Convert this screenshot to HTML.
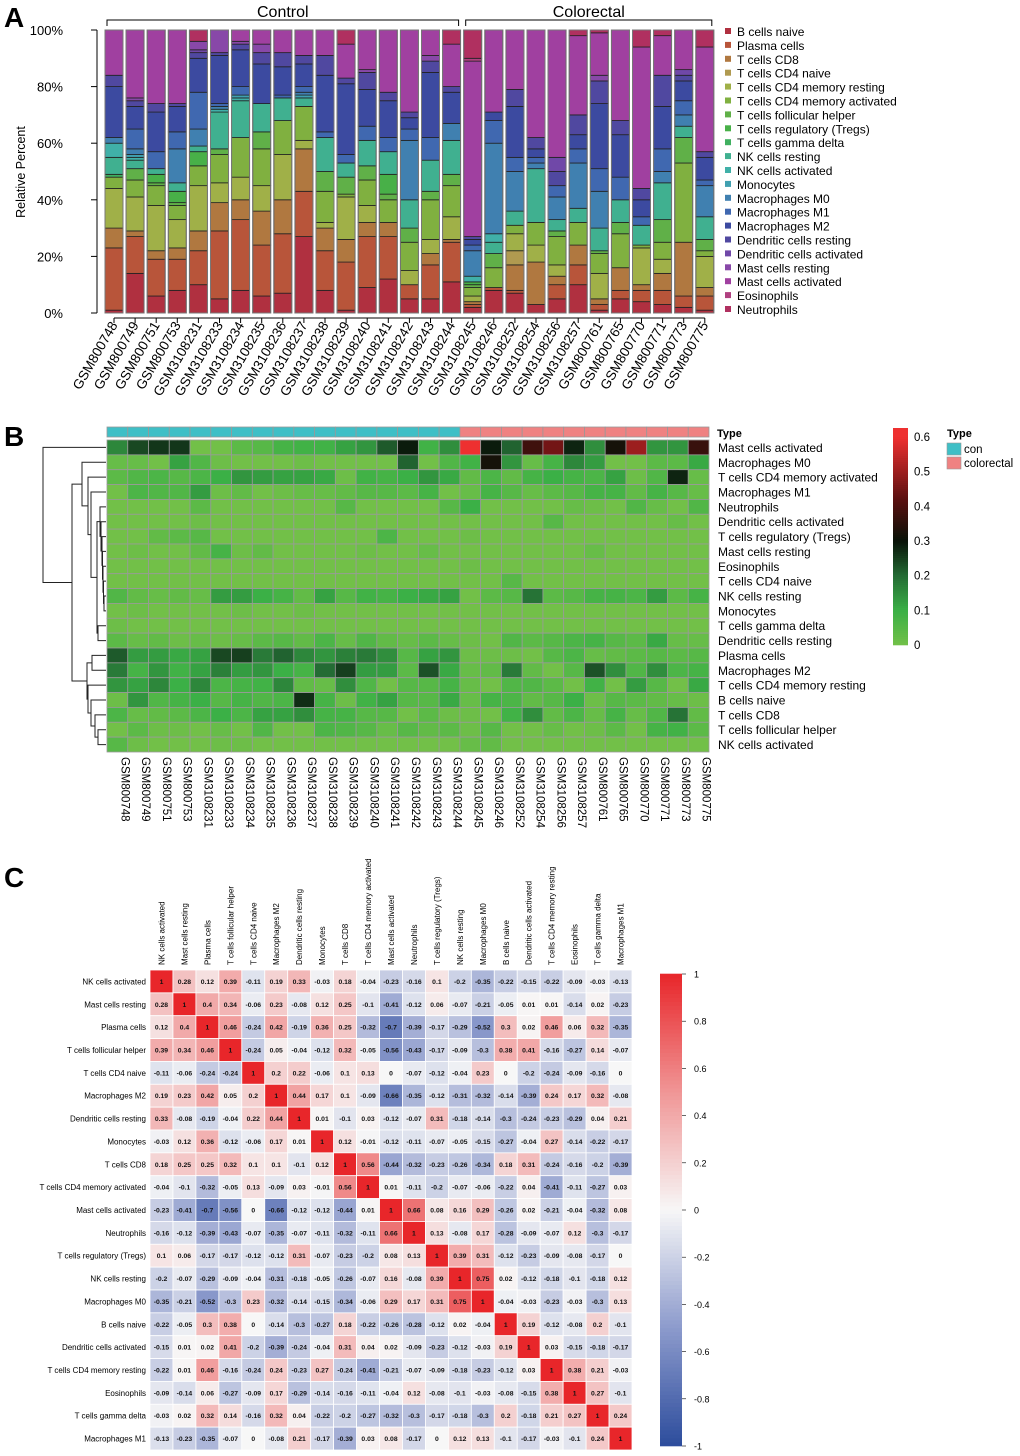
<!DOCTYPE html>
<html><head><meta charset="utf-8"><style>
body{margin:0;background:#fff;}
svg{display:block;font-family:"Liberation Sans",Arial,sans-serif;}
</style></head><body>
<svg id="fig" width="1020" height="1456" viewBox="0 0 1020 1456" xmlns="http://www.w3.org/2000/svg">
<g id="pA"></g>
<g id="pB"></g>
<g id="pC"></g>
</svg>
<script>
const cellTypes=["B cells naive","Plasma cells","T cells CD8","T cells CD4 naive","T cells CD4 memory resting","T cells CD4 memory activated","T cells follicular helper","T cells regulatory (Tregs)","T cells gamma delta","NK cells resting","NK cells activated","Monocytes","Macrophages M0","Macrophages M1","Macrophages M2","Dendritic cells resting","Dendritic cells activated","Mast cells resting","Mast cells activated","Eosinophils","Neutrophils"];
const typeColors=["#b03040","#b8553a","#b07840","#b09a50","#a0b048","#80b040","#60b048","#48b048","#40b060","#40b090","#40b0a8","#40a0b0","#4080b0","#4068b0","#3c4aa0","#5048a0","#7048a8","#8848a8","#a040a0","#b04080","#b03060"];
const samples=["GSM800748","GSM800749","GSM800751","GSM800753","GSM3108231","GSM3108233","GSM3108234","GSM3108235","GSM3108236","GSM3108237","GSM3108238","GSM3108239","GSM3108240","GSM3108241","GSM3108242","GSM3108243","GSM3108244","GSM3108245","GSM3108246","GSM3108252","GSM3108254","GSM3108256","GSM3108257","GSM800761","GSM800765","GSM800770","GSM800771","GSM800773","GSM800775"];
const groups=["con","con","con","con","con","con","con","con","con","con","con","con","con","con","con","con","con","colorectal","colorectal","colorectal","colorectal","colorectal","colorectal","colorectal","colorectal","colorectal","colorectal","colorectal","colorectal"];
// percent of each cell type per sample (order = cellTypes)
const fractions=[
[1,22,7,0,14,4,0,0,1,6,5,0,2,0,18,4,0,0,16,0,0],
[14,13,2,0,12,6,4,0,0,3,1,1,2,7,8,2,0,1,24,0,0],
[6,13,3,0,16,7,1,3,0,2,0,0,0,6,14,3,0,0,26,0,0],
[8,11,4,0,10,5,1,4,0,3,0,0,12,6,9,1,0,0,26,0,0],
[10,12,7,0,16,7,0,5,0,2,0,0,6,13,12,2,1,3,0,0,4],
[5,24,10,0,7,10,2,0,0,13,1,0,1,1,17,1,0,8,0,0,0],
[8,25,7,0,8,14,0,0,0,13,1,1,0,3,13,2,0,1,4,0,0],
[6,18,12,0,9,13,6,0,0,10,0,0,0,0,14,4,0,3,5,0,0],
[7,21,12,0,16,12,0,0,0,8,0,0,0,1,10,5,0,0,8,0,0],
[27,16,15,0,3,12,0,0,0,3,0,1,1,2,8,3,0,0,9,0,0],
[8,14,8,0,2,11,7,0,0,12,0,0,0,2,20,7,0,0,9,0,0],
[1,17,8,0,15,1,6,0,0,5,0,0,0,3,25,2,0,0,12,0,5],
[9,18,5,0,6,9,5,0,0,9,0,0,0,5,13,6,0,1,14,0,0],
[12,15,5,0,0,8,2,7,0,8,0,0,0,5,13,3,0,0,22,0,0],
[5,5,0,0,5,10,5,0,0,10,0,0,21,4,4,2,0,0,29,0,0],
[5,12,4,0,5,14,3,0,0,11,0,0,0,8,23,4,0,2,9,0,0],
[11,14,1,0,8,11,4,0,0,12,0,0,6,0,11,2,0,0,15,0,5],
[2,1,1,0,2,3,1,1,0,0,2,0,9,2,2,1,0,0,62,1,10],
[8,1,0,0,0,7,5,0,0,4,3,0,32,8,3,0,0,0,29,0,0],
[7,1,9,5,6,3,0,0,0,5,0,0,14,5,18,6,0,0,21,0,0],
[3,0,15,0,6,8,0,0,0,19,0,0,2,2,3,4,0,0,38,0,0],
[5,5,3,0,4,10,2,0,0,4,0,0,8,4,0,5,5,0,45,0,0],
[10,7,7,0,0,8,0,0,0,5,0,0,16,5,5,7,0,0,28,0,2],
[1,2,2,0,9,7,1,0,0,8,0,0,13,8,23,8,0,2,15,0,1],
[5,3,8,0,0,12,4,0,0,8,0,0,0,8,15,5,0,0,32,0,0],
[4,4,2,0,13,1,0,0,0,7,0,0,0,3,6,4,0,0,50,0,6],
[3,5,6,0,5,6,8,0,0,13,0,0,4,8,15,11,0,0,14,0,2],
[2,4,19,0,0,28,9,0,0,4,0,0,4,5,7,2,2,0,14,0,0],
[1,5,3,0,11,2,4,0,0,8,0,0,11,2,8,2,0,0,37,0,6]];
const yTicks=[0,20,40,60,80,100];
const heatRows=[18,12,5,13,20,16,7,17,19,3,9,11,8,15,1,14,4,0,2,6,10];
const heatTicks=[0,0.1,0.2,0.3,0.4,0.5,0.6];
const corrLabels=["NK cells activated","Mast cells resting","Plasma cells","T cells follicular helper","T cells CD4 naive","Macrophages M2","Dendritic cells resting","Monocytes","T cells CD8","T cells CD4 memory activated","Mast cells activated","Neutrophils","T cells regulatory (Tregs)","NK cells resting","Macrophages M0","B cells naive","Dendritic cells activated","T cells CD4 memory resting","Eosinophils","T cells gamma delta","Macrophages M1"];
const corr=[
[1,0.28,0.12,0.39,-0.11,0.19,0.33,-0.03,0.18,-0.04,-0.23,-0.16,0.1,-0.2,-0.35,-0.22,-0.15,-0.22,-0.09,-0.03,-0.13],
[0.28,1,0.4,0.34,-0.06,0.23,-0.08,0.12,0.25,-0.1,-0.41,-0.12,0.06,-0.07,-0.21,-0.05,0.01,0.01,-0.14,0.02,-0.23],
[0.12,0.4,1,0.46,-0.24,0.42,-0.19,0.36,0.25,-0.32,-0.7,-0.39,-0.17,-0.29,-0.52,0.3,0.02,0.46,0.06,0.32,-0.35],
[0.39,0.34,0.46,1,-0.24,0.05,-0.04,-0.12,0.32,-0.05,-0.56,-0.43,-0.17,-0.09,-0.3,0.38,0.41,-0.16,-0.27,0.14,-0.07],
[-0.11,-0.06,-0.24,-0.24,1,0.2,0.22,-0.06,0.1,0.13,0,-0.07,-0.12,-0.04,0.23,0,-0.2,-0.24,-0.09,-0.16,0],
[0.19,0.23,0.42,0.05,0.2,1,0.44,0.17,0.1,-0.09,-0.66,-0.35,-0.12,-0.31,-0.32,-0.14,-0.39,0.24,0.17,0.32,-0.08],
[0.33,-0.08,-0.19,-0.04,0.22,0.44,1,0.01,-0.1,0.03,-0.12,-0.07,0.31,-0.18,-0.14,-0.3,-0.24,-0.23,-0.29,0.04,0.21],
[-0.03,0.12,0.36,-0.12,-0.06,0.17,0.01,1,0.12,-0.01,-0.12,-0.11,-0.07,-0.05,-0.15,-0.27,-0.04,0.27,-0.14,-0.22,-0.17],
[0.18,0.25,0.25,0.32,0.1,0.1,-0.1,0.12,1,0.56,-0.44,-0.32,-0.23,-0.26,-0.34,0.18,0.31,-0.24,-0.16,-0.2,-0.39],
[-0.04,-0.1,-0.32,-0.05,0.13,-0.09,0.03,-0.01,0.56,1,0.01,-0.11,-0.2,-0.07,-0.06,-0.22,0.04,-0.41,-0.11,-0.27,0.03],
[-0.23,-0.41,-0.7,-0.56,0,-0.66,-0.12,-0.12,-0.44,0.01,1,0.66,0.08,0.16,0.29,-0.26,0.02,-0.21,-0.04,-0.32,0.08],
[-0.16,-0.12,-0.39,-0.43,-0.07,-0.35,-0.07,-0.11,-0.32,-0.11,0.66,1,0.13,-0.08,0.17,-0.28,-0.09,-0.07,0.12,-0.3,-0.17],
[0.1,0.06,-0.17,-0.17,-0.12,-0.12,0.31,-0.07,-0.23,-0.2,0.08,0.13,1,0.39,0.31,-0.12,-0.23,-0.09,-0.08,-0.17,0],
[-0.2,-0.07,-0.29,-0.09,-0.04,-0.31,-0.18,-0.05,-0.26,-0.07,0.16,-0.08,0.39,1,0.75,0.02,-0.12,-0.18,-0.1,-0.18,0.12],
[-0.35,-0.21,-0.52,-0.3,0.23,-0.32,-0.14,-0.15,-0.34,-0.06,0.29,0.17,0.31,0.75,1,-0.04,-0.03,-0.23,-0.03,-0.3,0.13],
[-0.22,-0.05,0.3,0.38,0,-0.14,-0.3,-0.27,0.18,-0.22,-0.26,-0.28,-0.12,0.02,-0.04,1,0.19,-0.12,-0.08,0.2,-0.1],
[-0.15,0.01,0.02,0.41,-0.2,-0.39,-0.24,-0.04,0.31,0.04,0.02,-0.09,-0.23,-0.12,-0.03,0.19,1,0.03,-0.15,-0.18,-0.17],
[-0.22,0.01,0.46,-0.16,-0.24,0.24,-0.23,0.27,-0.24,-0.41,-0.21,-0.07,-0.09,-0.18,-0.23,-0.12,0.03,1,0.38,0.21,-0.03],
[-0.09,-0.14,0.06,-0.27,-0.09,0.17,-0.29,-0.14,-0.16,-0.11,-0.04,0.12,-0.08,-0.1,-0.03,-0.08,-0.15,0.38,1,0.27,-0.1],
[-0.03,0.02,0.32,0.14,-0.16,0.32,0.04,-0.22,-0.2,-0.27,-0.32,-0.3,-0.17,-0.18,-0.3,0.2,-0.18,0.21,0.27,1,0.24],
[-0.13,-0.23,-0.35,-0.07,0,-0.08,0.21,-0.17,-0.39,0.03,0.08,-0.17,0,0.12,0.13,-0.1,-0.17,-0.03,-0.1,0.24,1]];
const corrTicks=[1,0.8,0.6,0.4,0.2,0,-0.2,-0.4,-0.6,-0.8,-1];

const NS="http://www.w3.org/2000/svg";
function mk(parent,tag,attrs,text){const e=document.createElementNS(NS,tag);for(const k in attrs)e.setAttribute(k,attrs[k]);if(text!==undefined)e.textContent=text;parent.appendChild(e);return e;}
function hex2rgb(h){return [parseInt(h.substr(1,2),16),parseInt(h.substr(3,2),16),parseInt(h.substr(5,2),16)];}
function interp(stops,v){if(v<=stops[0][0])return stops[0][1];for(let i=1;i<stops.length;i++){if(v<=stops[i][0]){const t=(v-stops[i-1][0])/(stops[i][0]-stops[i-1][0]);const a=hex2rgb(stops[i-1][1]),b=hex2rgb(stops[i][1]);return "rgb("+a.map((x,j)=>Math.round(x+(b[j]-x)*t)).join(",")+")";}}return stops[stops.length-1][1];}

/* ---------- Panel A ---------- */
const A=document.getElementById('pA');
let t=mk(A,'text',{x:4,y:27,'font-size':28,'font-weight':'bold'},'A');


const aTop=30,aBot=313,aLeft=105,pitch=21.1,bw=18;
const yA=v=>aBot-(v/100)*(aBot-aTop);
const xA=i=>aLeft+i*pitch;
mk(A,'line',{x1:97,y1:yA(0),x2:97,y2:yA(100),stroke:'#000'});
yTicks.forEach(v=>{mk(A,'line',{x1:91,y1:yA(v),x2:97,y2:yA(v),stroke:'#000'});
 const l=mk(A,'text',{x:63,y:yA(v)+5,'font-size':13,'text-anchor':'end'},v+'%');
 
 });
t=mk(A,'text',{x:25,y:172,'font-size':12.5,'text-anchor':'middle',transform:'rotate(-90 25 172)'},'Relative Percent');


// group brackets
const nCon=groups.filter(g=>g==='con').length;
[[0,nCon-1,'Control'],[nCon,samples.length-1,'Colorectal']].forEach(([a,b,lab])=>{
 const x1=xA(a)+2,x2=xA(b)+bw-2;
 mk(A,'path',{d:`M${x1},26 V20 H${x2} V26`,fill:'none',stroke:'#000','stroke-width':1});
 const g=mk(A,'text',{x:(x1+x2)/2,y:17,'font-size':16,'text-anchor':'middle'},lab);
 
 });
fractions.forEach((fr,i)=>{
 const g=mk(A,'g',{});
 
 
 const tot=fr.reduce((s,v)=>s+v,0);let acc=0;
 fr.forEach((v,k)=>{if(v<=0)return;const y0=yA(acc/tot*100),y1=yA((acc+v)/tot*100);acc+=v;
  const r=mk(g,'rect',{x:xA(i),y:y1,width:bw,height:y0-y1,fill:typeColors[k],stroke:'#222','stroke-width':0.8});
  
  });
 mk(g,'rect',{x:xA(i),y:aTop,width:bw,height:aBot-aTop,fill:'none',stroke:'#777','stroke-width':1});
 const cx=xA(i)+bw/2;
 mk(A,'line',{x1:cx,y1:318,x2:cx,y2:323,stroke:'#000'});
 const l=mk(A,'text',{x:cx+4,y:325,'font-size':13.5,'text-anchor':'end',transform:`rotate(-60 ${cx+4} 325)`},samples[i]);
 
 });
mk(A,'line',{x1:xA(0)+bw/2,y1:318,x2:xA(samples.length-1)+bw/2,y2:318,stroke:'#000'});
cellTypes.forEach((c,k)=>{const y=32+k*13.9;
 const g=mk(A,'g',{});
 
 
 mk(g,'rect',{x:725,y:y-4,width:6,height:6,fill:typeColors[k]});
 mk(g,'text',{x:737,y:y+4,'font-size':12},c);});

/* ---------- Panel B ---------- */
const B=document.getElementById('pB');
t=mk(B,'text',{x:4,y:446,'font-size':28,'font-weight':'bold'},'B');


const hx0=107,hx1=709,hy0=440,hy1=752;
const cw=(hx1-hx0)/samples.length,rh=(hy1-hy0)/heatRows.length;
const heatStops=[[0,'#72c048'],[0.1,'#3bb046'],[0.2,'#246c34'],[0.3,'#081208'],[0.42,'#5a1010'],[0.6,'#ee3030']];
samples.forEach((s,j)=>{
 const a=mk(B,'rect',{x:hx0+j*cw,y:427,width:cw,height:10,fill:groups[j]==='con'?'#3fbfc6':'#ef8282',stroke:'#999','stroke-width':0.8});
 
 
 const x=hx0+j*cw+cw/2+4;
 const l=mk(B,'text',{x:x,y:757,'font-size':11.5,transform:`rotate(90 ${x} 757)`},s);
 
 });
heatRows.forEach((k,r)=>{
 samples.forEach((s,j)=>{const fr=fractions[j];const tot=fr.reduce((a,b)=>a+b,0);const v=fr[k]/tot;
  const c=mk(B,'rect',{x:hx0+j*cw,y:hy0+r*rh,width:cw,height:rh,fill:interp(heatStops,v),stroke:'#9a9a9a','stroke-width':0.8});
  
  });
 const l=mk(B,'text',{x:718,y:hy0+r*rh+rh/2+4.5,'font-size':12},cellTypes[k]);
 
 });
t=mk(B,'text',{x:717,y:437,'font-size':11,'font-weight':'bold'},'Type');


// dendrogram
const yRow=r=>hy0+r*rh+rh/2;
function N(x,a,b){return {x:x,a:a,b:b};}
const tree=N(43,0,N(72,N(82,1,N(88,2,N(91,3,N(97,N(100,4,N(101,5,N(102,6,N(102.5,7,N(103,8,N(103.5,9,N(104,10,11))))))),N(98,12,13))))),N(87,N(92,14,15),N(88,16,N(91,17,N(95,18,N(98,19,20)))))));
const dend=mk(B,'g',{fill:'none',stroke:'#222','stroke-width':1});


function draw(n){if(typeof n==='number')return {x:hx0-1,y:yRow(n)};const a=draw(n.a),b=draw(n.b);
 mk(dend,'path',{d:`M${a.x},${a.y} H${n.x} V${b.y} H${b.x}`});return {x:n.x,y:(a.y+b.y)/2};}
draw(tree);
// colorbar
const cb=mk(B,'g',{});


const cbY=v=>645-v*(645-437)/0.6;
for(let i=0;i<100;i++){const v0=i/100*0.6,v1=(i+1)/100*0.6;mk(cb,'rect',{x:893,y:cbY(v1)-0.3,width:15,height:cbY(v0)-cbY(v1)+0.6,fill:interp(heatStops,(v0+v1)/2)});}
mk(cb,'rect',{x:893,y:428,width:15,height:cbY(0.6)-428,fill:'#ee3030'});
heatTicks.forEach(v=>{const l=mk(B,'text',{x:914,y:cbY(v)+4,'font-size':11.5},String(v));
 
 });
t=mk(B,'text',{x:947,y:437,'font-size':11,'font-weight':'bold'},'Type');


[['con','#3fbfc6',443],['colorectal','#ef8282',457]].forEach(([lab,col,y])=>{
 const g=mk(B,'g',{});
 
 
 mk(g,'rect',{x:947,y:y,width:14,height:12,fill:col,stroke:'#999','stroke-width':0.6});
 mk(g,'text',{x:964,y:y+10,'font-size':11.5},lab);});

/* ---------- Panel C ---------- */
const C=document.getElementById('pC');
t=mk(C,'text',{x:4,y:887,'font-size':28,'font-weight':'bold'},'C');


const cx0=150,cy0=970,cs=(632-150)/corrLabels.length,csy=(1450-970)/corrLabels.length;
const corrStops=[[-1,'#2c4c9c'],[-0.5,'#8c9acc'],[0,'#f7f7f7'],[0.5,'#f09696'],[1,'#e8262a']];
corrLabels.forEach((lab,i)=>{
 const x=cx0+i*cs+cs/2+3;
 const l=mk(C,'text',{x:x,y:965,'font-size':8,transform:`rotate(-90 ${x} 965)`},lab);
 
 
 const r=mk(C,'text',{x:146,y:cy0+i*csy+csy/2+3,'font-size':8,'text-anchor':'end'},lab);
 
 });
corr.forEach((row,i)=>row.forEach((v,j)=>{
 const c=mk(C,'rect',{x:cx0+j*cs,y:cy0+i*csy,width:cs,height:csy,fill:interp(corrStops,v),stroke:'#fff','stroke-width':0.8});
 
 
 const l=mk(C,'text',{x:cx0+j*cs+cs/2,y:cy0+i*csy+csy/2+2.5,'font-size':6.8,'font-weight':'bold','text-anchor':'middle',fill:'#111'},String(v));
 
 }));
const cbc=mk(C,'g',{});


const ccY=v=>974+(1-v)/2*(1446-974);
for(let i=0;i<120;i++){const v0=-1+i/60,v1=-1+(i+1)/60;mk(cbc,'rect',{x:660,y:ccY(v1)-0.3,width:22,height:ccY(v0)-ccY(v1)+0.6,fill:interp(corrStops,(v0+v1)/2)});}
corrTicks.forEach(v=>{mk(C,'line',{x1:682,y1:ccY(v),x2:686,y2:ccY(v),stroke:'#000','stroke-width':0.6});
 const l=mk(C,'text',{x:694,y:ccY(v)+3.5,'font-size':9},String(v));
 
 });
</script>
</body></html>
